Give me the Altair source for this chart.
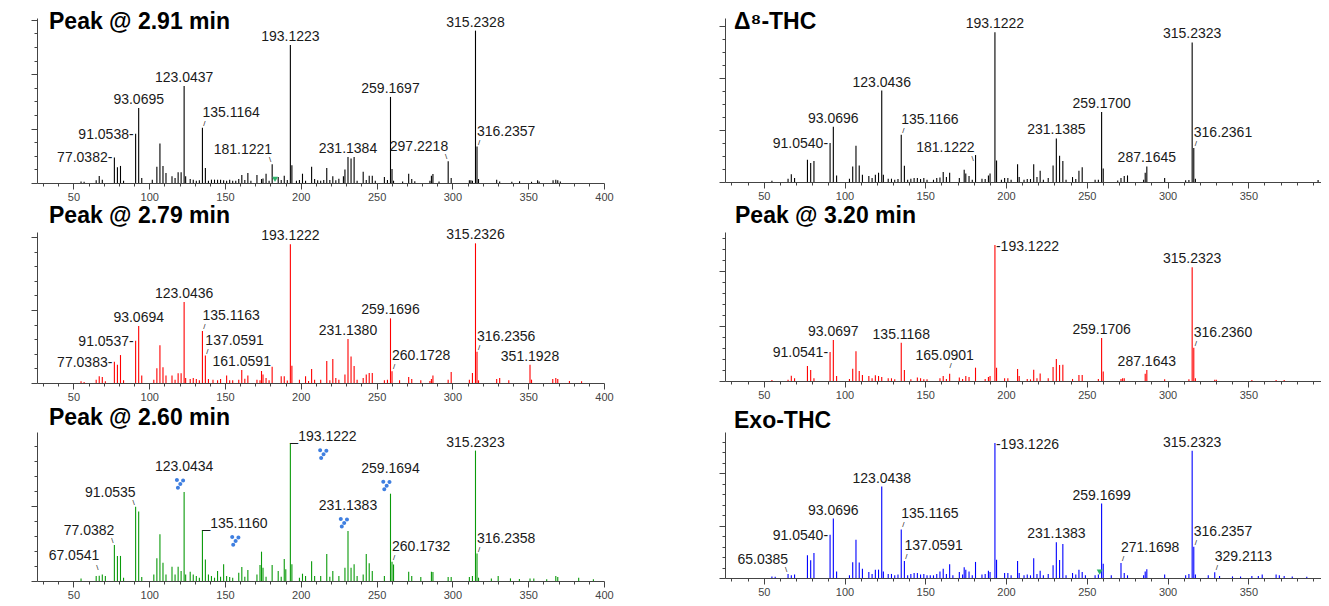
import altair as alt
import pandas as pd

X_MIN = 26

# ---------------- spectra: (m/z, relative intensity %) ----------------
peaks_291 = [
    (55.05, 1.0), (57.07, 0.8), (65.04, 1.8), (67.05, 4.6), (69.07, 2.2), (77.0382, 16.8), (79.05, 10.3),
    (81.07, 11.2), (83.09, 1.5), (91.0538, 32.4), (93.0695, 49.2), (95.09, 3.3), (102.05, 2.2), (105.07, 10.7),
    (107.09, 26.0), (109.10, 11.2), (111.08, 6.6), (115.05, 4.4), (117.07, 3.3), (119.09, 7.0), (121.06, 7.0),
    (123.0437, 63.7), (124.05, 4.4), (127.05, 2.6), (129.07, 2.2), (131.09, 1.5), (133.10, 1.8), (135.1164, 36.3),
    (137.06, 9.8), (139.08, 1.5), (141.07, 2.2), (143.09, 2.2), (145.10, 2.2), (147.08, 2.2), (149.10, 1.8),
    (151.08, 1.5), (153.09, 2.2), (155.08, 1.5), (157.10, 1.5), (159.08, 2.6), (161.10, 5.3), (163.08, 2.0),
    (165.09, 6.6), (167.09, 1.5), (171.08, 5.3), (174.09, 2.6), (175.08, 3.0), (177.09, 6.1), (179.09, 1.5),
    (181.1221, 12.3), (185.10, 3.9), (187.08, 2.0), (189.09, 4.8), (191.10, 2.0), (193.1223, 90.6), (194.13, 11.6),
    (197.13, 1.5), (199.11, 2.0), (201.12, 6.1), (203.14, 1.5), (207.14, 10.7), (209.12, 2.6), (211.13, 1.8),
    (213.13, 1.5), (215.14, 2.0), (217.13, 9.8), (219.15, 2.0), (221.12, 4.4), (223.11, 1.8), (225.12, 2.8),
    (228.11, 4.4), (229.12, 8.8), (231.1384, 17.1), (233.15, 16.0), (235.17, 17.1), (237.15, 1.5), (241.16, 7.4),
    (243.18, 2.0), (245.13, 4.8), (247.15, 4.8), (249.14, 1.5), (255.14, 3.9), (257.16, 2.0), (259.1697, 56.5),
    (260.17, 9.2), (261.18, 1.5), (267.17, 1.0), (271.17, 6.1), (273.18, 2.6), (275.20, 1.2), (285.18, 1.5),
    (286.16, 4.8), (287.16, 5.9), (291.17, 1.0), (297.2218, 14.2), (299.20, 3.3), (311.20, 1.8), (312.21, 1.8),
    (313.22, 1.5), (315.2328, 100.0), (316.2357, 23.9), (317.24, 2.6), (329.21, 2.2), (331.19, 1.0), (339.20, 0.8),
    (344.30, 1.1), (352.20, 0.8), (356.20, 1.8), (357.21, 1.0), (366.40, 1.8), (368.20, 2.2), (369.50, 1.8),
    (371.20, 1.0),
]
labels_291 = [77.0382, 91.0538, 93.0695, 123.0437, 135.1164, 181.1221, 193.1223, 231.1384, 259.1697, 297.2218,
              315.2328, 316.2357]
place_291 = ["left", "left", "top", "top", "upr", "upl", "top", "top", "top", "upl", "top", "upr"]
marker_291 = [(183.0, 2.4)]

peaks_279 = [
    (55.05, 1.2), (57.07, 0.7), (65.04, 2.4), (67.05, 4.8), (69.07, 4.3), (71.09, 1.2), (77.0383, 15.3),
    (79.05, 13.1), (81.07, 20.0), (83.09, 1.9), (91.0537, 30.3), (93.0694, 40.8), (95.09, 5.3), (103.05, 2.4),
    (105.07, 10.5), (107.09, 27.0), (109.10, 11.2), (111.08, 5.3), (115.05, 5.3), (117.07, 2.4), (119.09, 6.9),
    (121.06, 6.9), (123.0436, 58.0), (124.05, 3.6), (127.05, 2.9), (129.07, 3.6), (131.09, 2.9), (133.10, 2.0),
    (135.1163, 37.2), (137.0591, 19.6), (139.08, 2.9), (142.08, 2.4), (145.10, 2.0), (147.08, 2.9), (151.08, 5.3),
    (153.09, 2.0), (155.08, 2.0), (159.08, 2.4), (161.0591, 9.3), (163.08, 3.0), (165.09, 5.3), (171.08, 2.4),
    (173.10, 2.0), (174.09, 8.6), (175.08, 6.0), (177.09, 3.6), (179.09, 2.0), (181.10, 11.7), (187.08, 4.8),
    (189.09, 4.8), (191.10, 1.8), (193.1222, 99.3), (194.13, 12.4), (199.11, 2.4), (203.14, 4.8), (205.12, 1.5),
    (207.14, 10.0), (209.12, 2.4), (213.13, 2.4), (217.13, 15.8), (219.15, 2.0), (221.12, 17.2), (223.11, 3.6),
    (225.12, 2.4), (229.12, 6.0), (231.1380, 31.5), (233.15, 18.9), (235.17, 12.2), (237.15, 2.4), (241.16, 3.6),
    (243.18, 6.0), (245.13, 7.2), (247.15, 7.2), (255.14, 1.9), (257.16, 2.4), (259.1696, 46.3), (260.1728, 8.4),
    (265.15, 1.9), (271.17, 4.3), (273.18, 2.9), (279.16, 1.9), (285.18, 1.5), (286.16, 2.9), (287.16, 5.3),
    (297.20, 2.4), (299.20, 7.9), (311.20, 2.4), (313.22, 7.2), (315.2326, 100.0), (316.2356, 22.4), (317.24, 1.9),
    (329.21, 2.9), (331.19, 3.6), (337.20, 1.9), (351.1928, 13.1), (352.20, 2.4), (366.20, 2.9), (368.20, 3.6),
    (369.50, 2.9), (377.20, 1.4), (385.20, 1.2),
]
labels_279 = [77.0383, 91.0537, 93.0694, 123.0436, 135.1163, 137.0591, 161.0591, 193.1222, 231.1380, 259.1696,
              260.1728, 315.2326, 316.2356, 351.1928]
place_279 = ["left", "left", "top", "top", "upr", "upr", "top", "top", "top", "top", "upr", "top", "upr", "top"]

peaks_260 = [
    (55.05, 1.9), (65.04, 3.6), (67.0541, 3.9), (69.07, 4.8), (71.09, 3.6), (77.0382, 26.2), (79.05, 18.2),
    (81.07, 18.2), (83.09, 2.4), (91.0535, 54.0), (93.07, 50.4), (95.09, 2.9), (103.05, 4.8), (105.07, 16.5),
    (107.09, 33.9), (109.10, 13.3), (111.08, 4.8), (115.05, 10.4), (117.07, 4.8), (119.09, 10.4), (121.06, 7.3),
    (123.0434, 64.6), (124.05, 4.8), (127.05, 6.8), (129.07, 4.8), (131.09, 3.6), (133.10, 2.4), (135.1160, 37.0),
    (137.06, 15.7), (139.08, 4.8), (141.07, 3.6), (143.09, 2.4), (145.10, 7.3), (147.08, 3.0), (149.10, 12.1),
    (151.08, 3.6), (153.09, 2.9), (155.08, 2.4), (159.08, 6.0), (161.10, 10.2), (163.08, 3.0), (165.09, 8.0),
    (171.08, 4.8), (173.10, 11.6), (174.09, 21.3), (175.08, 9.7), (177.09, 3.0), (181.10, 11.6), (185.10, 7.3),
    (187.08, 3.0), (189.09, 16.0), (190.10, 8.5), (193.1222, 100.0), (194.13, 12.1), (199.11, 2.4), (201.12, 5.3),
    (203.14, 3.6), (207.14, 14.3), (209.12, 3.6), (213.13, 3.6), (217.13, 19.6), (219.15, 3.0), (221.12, 7.3),
    (225.12, 3.6), (229.12, 9.7), (231.1383, 36.3), (233.15, 9.7), (235.17, 12.1), (237.15, 3.6), (241.16, 4.8),
    (243.18, 19.6), (245.13, 12.8), (247.15, 7.3), (255.14, 3.6), (259.1694, 63.4), (260.1732, 14.0),
    (261.18, 12.0), (271.17, 6.8), (273.18, 3.6), (279.16, 2.9), (286.16, 6.8), (287.16, 6.5), (297.20, 2.9),
    (299.20, 2.9), (311.20, 2.9), (313.22, 3.6), (315.2323, 94.7), (316.2358, 19.9), (317.24, 2.4), (325.70, 1.9),
    (330.20, 3.6), (338.30, 1.9), (344.20, 1.5), (351.20, 1.9), (353.70, 1.9), (362.20, 1.2), (368.20, 3.6),
    (369.50, 2.9), (383.30, 2.4), (393.00, 1.2),
]
labels_260 = [67.0541, 77.0382, 91.0535, 123.0434, 135.1160, 193.1222, 231.1383, 259.1694, 260.1732, 315.2323,
              316.2358]
place_260 = ["upl16", "upl", "upl", "topicon", "rbot", "rbot", "topicon", "topicon", "upr", "top", "upr"]
icon_260 = [123.0434, 135.1160, 193.1222, 231.1383, 259.1694]
icon_place_260 = ["above", "right", "right", "above", "above"]

peaks_d8 = [
    (55.05, 0.9), (65.04, 2.2), (67.05, 5.1), (69.07, 2.7), (77.04, 14.9), (79.05, 12.7), (81.07, 14.0),
    (91.0540, 26.0), (93.0696, 36.9), (95.09, 4.4), (103.05, 2.2), (105.07, 10.4), (107.09, 24.2), (109.10, 11.1),
    (111.08, 4.9), (115.05, 4.0), (117.07, 2.7), (119.09, 4.9), (121.06, 6.2), (123.0436, 61.1), (124.05, 4.9),
    (127.05, 2.2), (129.07, 2.2), (131.09, 1.5), (133.10, 2.0), (135.1166, 31.6), (137.06, 10.9), (139.08, 1.5),
    (141.07, 2.2), (143.09, 2.7), (145.10, 2.7), (147.08, 2.0), (149.10, 2.7), (151.08, 1.5), (155.08, 1.5),
    (157.10, 2.7), (159.08, 3.0), (161.10, 6.7), (163.08, 3.3), (165.09, 6.2), (171.08, 2.7), (174.09, 8.2),
    (175.08, 5.6), (177.09, 4.0), (179.09, 1.5), (181.1222, 18.0), (185.10, 2.2), (187.08, 2.0), (189.09, 4.4),
    (190.10, 5.6), (193.1222, 100.0), (194.13, 14.4), (197.13, 1.5), (199.11, 2.7), (201.12, 2.7), (203.14, 1.5),
    (207.14, 11.8), (208.14, 3.3), (211.13, 1.5), (213.13, 2.0), (215.14, 2.0), (217.13, 11.8), (219.15, 3.3),
    (221.12, 7.6), (223.11, 1.5), (226.12, 2.7), (229.12, 11.1), (231.1385, 29.1), (233.15, 17.6), (235.17, 14.0),
    (237.15, 1.5), (241.16, 3.3), (243.18, 2.0), (245.13, 7.6), (247.15, 9.8), (255.14, 1.5), (257.16, 1.5),
    (259.1700, 46.7), (260.17, 9.1), (269.15, 1.0), (271.17, 2.7), (273.18, 4.0), (275.20, 4.4), (285.18, 1.5),
    (286.16, 6.2), (287.1645, 10.4), (298.20, 2.7), (311.20, 1.1), (313.22, 1.3), (315.2323, 93.3),
    (316.2361, 22.7), (317.24, 2.2), (393.20, 1.3),
]
labels_d8 = [91.0540, 93.0696, 123.0436, 135.1166, 181.1222, 193.1222, 231.1385, 259.1700, 287.1645, 315.2323,
             316.2361]
place_d8 = ["left", "top", "top", "upr", "upl3", "top", "top", "top", "top", "top", "upr"]

peaks_320 = [
    (55.05, 0.7), (65.04, 1.0), (67.05, 3.9), (69.07, 2.0), (77.04, 11.0), (79.05, 8.1), (81.07, 2.0),
    (91.0541, 21.3), (93.0697, 30.1), (95.09, 3.7), (103.05, 1.5), (105.07, 9.1), (107.09, 21.8), (109.10, 7.4),
    (111.08, 4.4), (115.05, 3.7), (117.07, 2.0), (119.09, 4.2), (121.06, 3.7), (123.04, 2.9), (127.05, 2.0),
    (129.07, 2.0), (131.09, 1.2), (135.1168, 28.2), (137.06, 8.1), (141.07, 1.2), (145.10, 2.5), (147.08, 2.0),
    (149.10, 1.2), (151.08, 1.2), (159.08, 2.0), (161.10, 3.7), (163.08, 1.5), (165.0901, 5.4), (171.08, 2.5),
    (173.10, 1.5), (175.08, 3.7), (177.09, 2.9), (181.10, 9.8), (187.08, 1.5), (189.09, 2.9), (190.10, 3.7),
    (193.1222, 100.0), (194.13, 9.8), (199.11, 2.0), (201.12, 2.0), (207.14, 8.8), (208.14, 3.7), (213.13, 1.5),
    (215.14, 1.2), (217.13, 8.3), (219.15, 2.0), (221.12, 5.6), (226.12, 2.0), (229.12, 10.3), (231.14, 16.2),
    (233.15, 11.8), (235.17, 12.0), (241.16, 1.5), (245.13, 4.4), (247.15, 4.4), (257.16, 1.5), (259.1706, 31.6),
    (260.17, 6.9), (271.17, 1.5), (272.18, 2.0), (273.18, 2.0), (286.16, 5.4), (287.1643, 8.1), (298.20, 1.2),
    (313.22, 1.2), (315.2323, 83.6), (316.2360, 24.5), (317.24, 2.0), (329.21, 1.0), (330.20, 1.0), (352.20, 0.7),
    (367.20, 0.7), (372.20, 0.7),
]
labels_320 = [91.0541, 93.0697, 135.1168, 165.0901, 193.1222, 259.1706, 287.1643, 315.2323, 316.2360]
place_320 = ["left", "top", "top", "upc", "rmid", "top", "top", "top", "upr"]

peaks_exo = [
    (55.05, 1.2), (57.07, 1.0), (65.0385, 3.0), (67.05, 2.0), (69.07, 2.5), (77.04, 16.8), (79.05, 13.1),
    (81.07, 18.5), (91.0540, 32.1), (93.0696, 44.0), (95.09, 4.9), (103.05, 2.0), (105.07, 11.6), (107.09, 28.4),
    (109.10, 11.4), (111.08, 6.9), (115.05, 4.4), (117.07, 3.0), (119.09, 6.2), (121.06, 6.2), (123.0438, 67.7),
    (124.05, 4.9), (127.05, 3.0), (129.07, 3.0), (131.09, 2.0), (133.10, 2.5), (135.1165, 36.0), (137.0591, 12.6),
    (139.08, 2.0), (141.07, 3.0), (143.09, 3.7), (145.10, 3.7), (147.08, 2.5), (149.10, 3.0), (151.08, 2.0),
    (153.09, 2.0), (155.08, 2.0), (157.10, 3.0), (159.08, 4.9), (161.10, 6.9), (163.08, 3.0), (165.09, 10.1),
    (167.09, 2.0), (171.08, 4.4), (173.10, 2.5), (174.09, 7.9), (175.08, 6.2), (177.09, 4.9), (179.09, 2.0),
    (181.10, 11.9), (185.10, 2.5), (187.08, 3.0), (189.09, 5.4), (190.10, 4.4), (193.1226, 100.0), (194.13, 13.6),
    (199.11, 3.7), (201.12, 3.7), (203.14, 2.0), (207.14, 12.6), (208.14, 3.7), (211.13, 2.0), (213.13, 2.5),
    (215.14, 2.0), (217.13, 14.6), (219.15, 3.0), (221.12, 5.4), (223.11, 2.0), (226.12, 3.0), (229.12, 9.4),
    (231.1383, 26.4), (233.15, 13.3), (235.17, 25.2), (237.15, 2.0), (241.16, 3.7), (243.18, 2.5), (245.13, 6.2),
    (247.15, 4.4), (249.14, 2.0), (255.14, 2.0), (257.16, 2.5), (259.1699, 55.1), (260.17, 10.6), (265.15, 2.0),
    (271.1698, 11.1), (273.18, 3.7), (275.20, 2.0), (285.18, 2.0), (286.16, 4.9), (287.16, 6.4), (298.20, 2.5),
    (311.20, 2.0), (313.22, 3.0), (315.2323, 94.3), (316.2357, 23.2), (317.24, 2.5), (325.20, 2.0),
    (329.2113, 4.2), (332.20, 1.5), (340.20, 1.2), (345.20, 1.2), (352.20, 1.5), (356.20, 1.5), (358.60, 2.5),
    (367.20, 2.5), (369.20, 2.0), (372.20, 1.5), (377.20, 1.2), (386.20, 1.0),
]
labels_exo = [65.0385, 91.0540, 93.0696, 123.0438, 135.1165, 137.0591, 193.1226, 231.1383, 259.1699, 271.1698,
              315.2323, 316.2357, 329.2113]
place_exo = ["upl", "left", "top", "top", "upr", "upr", "rmid", "top", "top", "upr", "top", "upr", "upr"]
marker_exo = [(258.0, 4.4)]

# ---------------- label placement styles ----------------
STYLES = {
    "top": dict(align="center", baseline="alphabetic", dx=0, dy=-4),
    "left": dict(align="right", baseline="middle", dx=-2, dy=1),
    "upr": dict(align="left", baseline="alphabetic", dx=0, dy=-11),
    "upl": dict(align="right", baseline="alphabetic", dx=0, dy=-10),
    "upl16": dict(align="right", baseline="alphabetic", dx=0, dy=-16),
    "upl3": dict(align="right", baseline="alphabetic", dx=-1, dy=-3),
    "upc": dict(align="center", baseline="alphabetic", dx=-5, dy=-14),
    "rmid": dict(align="left", baseline="middle", dx=1, dy=2),
    "rbot": dict(align="left", baseline="alphabetic", dx=0, dy=-2),
    "topicon": dict(align="center", baseline="alphabetic", dx=0, dy=-21),
}
PREFIX = {"rmid": "-", "rbot": "_"}
SUFFIX = {"left": "-"}
CONNECT = {"upr": ("/", 2, -4), "upl": ("\\", -2, -4), "upl16": ("\\", -2, -8),
           "upl3": ("\\", -3, 4), "upc": ("/", 1, -8)}


def dots_path(cx, cy, r=2.0):
    pts = [(-3.2, -3.0), (3.0, -2.6), (0.2, 1.0), (-2.2, 4.6)]
    out = []
    for px, py in pts:
        x0, y0 = cx + px, cy + py
        out.append(f"M{x0 - r:.2f},{y0:.2f}a{r},{r} 0 1,0 {2 * r},0a{r},{r} 0 1,0 {-2 * r},0Z")
    return "".join(out)


ICON_SHAPES = {"above": dots_path(-4, -9), "right": dots_path(33, 10)}

FONT = "Liberation Sans"


def panel(peaks, lab_mz, lab_place, color, w, h, xmax, ymax, ystep, ymajor, title, tx, ty,
          markers=None, icons=None, icon_place=None):
    look = dict(peaks)
    pk = pd.DataFrame(peaks, columns=["mz", "inten"])
    xvals = list(range(30, int(xmax) + 1, 10))
    x_axis = alt.Axis(values=xvals, labelExpr="datum.value % 50 === 0 ? datum.label : ''",
                      tickSize={"condition": {"test": "datum.value % 50 === 0", "value": 6}, "value": 3},
                      labelFontSize=11, labelColor="#444444", labelFont=FONT, domainColor="#444444",
                      tickColor="#444444", labelPadding=2, labelFlush=False, labelOverlap=False,
                      title=None, grid=False)
    n = int(ymax / ystep)
    yvals = [round(i * ystep, 4) for i in range(n + 1)]
    maj = ystep * ymajor
    y_axis = alt.Axis(values=yvals, labels=False, title=None, grid=False, domainColor="#444444",
                      tickColor="#444444",
                      tickSize={"condition": {"test": f"abs(datum.value/{maj} - round(datum.value/{maj})) < 0.01",
                                              "value": 6}, "value": 3})
    xe = alt.X("mz:Q", scale=alt.Scale(domain=[X_MIN, xmax], nice=False, zero=False), axis=x_axis)
    ye = alt.Y("inten:Q", scale=alt.Scale(domain=[0, ymax], nice=False, zero=True), axis=y_axis)

    layers = [alt.Chart(pk).mark_rule(color=color, strokeWidth=1.1).encode(x=xe, y=ye, y2=alt.datum(0))]

    lab = pd.DataFrame({
        "mz": lab_mz,
        "inten": [look[m] for m in lab_mz],
        "text": [PREFIX.get(p, "") + f"{m:.4f}" + SUFFIX.get(p, "") for m, p in zip(lab_mz, lab_place)],
        "place": lab_place,
    })
    for s in dict.fromkeys(lab_place):
        sub = lab[lab["place"] == s]
        layers.append(alt.Chart(sub).mark_text(font=FONT, fontSize=14, color="#1a1a1a", **STYLES[s])
                      .encode(x=xe, y=ye, text="text:N"))
        if s in CONNECT:
            ch, cdx, cdy = CONNECT[s]
            layers.append(alt.Chart(sub).mark_text(font=FONT, fontSize=8, color="#1a1a1a", text=ch,
                                                   align="center", baseline="middle", dx=cdx, dy=cdy)
                          .encode(x=xe, y=ye))
    if markers:
        mk = pd.DataFrame(markers, columns=["mz", "inten"])
        layers.append(alt.Chart(mk).mark_point(shape="triangle-down", filled=True, size=36, opacity=1,
                                               color="#2fb36b").encode(x=xe, y=ye))
    if icons:
        ic = pd.DataFrame({"mz": icons, "inten": [look[m] for m in icons], "place": icon_place})
        for s in dict.fromkeys(icon_place):
            layers.append(alt.Chart(ic[ic["place"] == s]).mark_point(shape=ICON_SHAPES[s], filled=True,
                                                                     size=4, opacity=1, color="#3f7fe0")
                          .encode(x=xe, y=ye))
    layers.append(alt.Chart(pd.DataFrame({"t": [title]})).mark_text(
        font=FONT, fontSize=23, fontWeight="bold", color="#000000", align="left", baseline="alphabetic")
        .encode(x=alt.value(tx), y=alt.value(ty), text="t:N"))
    return alt.layer(*layers).properties(width=w, height=h)


WL, WR = 567, 596
XL, XR = 400, 395
L1 = panel(peaks_291, labels_291, place_291, "#000000", WL, 165, XL, 108.3, 8.93, 4, "Peak @ 2.91 min", 12, 11,
           markers=marker_291)
R1 = panel(peaks_d8, labels_d8, place_d8, "#000000", WR, 164, XR, 109.6, 8.69, 4, "Δ⁸-THC", 9, 11)
L2 = panel(peaks_279, labels_279, place_279, "#ff0000", WL, 151, XL, 108.1, 10.45, 5, "Peak @ 2.79 min", 12, -8.7)
R2 = panel(peaks_320, labels_320, place_320, "#ff0000", WR, 149, XR, 109.6, 8.09, 5, "Peak @ 3.20 min", 10, -9.3)
L3 = panel(peaks_260, labels_260, place_260, "#0a9a0a", WL, 149, XL, 108.2, 10.9, 5, "Peak @ 2.60 min", 12, -7,
           icons=icon_260, icon_place=icon_place_260)
R3 = panel(peaks_exo, labels_exo, place_exo, "#0000ff", WR, 146, XR, 108.1, 7.77, 5, "Exo-THC", 9, -3.7,
           markers=marker_exo)

chart = alt.concat(L1, R1, L2, R2, L3, R3, columns=2, spacing={"row": 49, "column": 121},
                   bounds="flush").properties(
    padding={"left": 22, "top": 3, "right": 0, "bottom": 0},
    background="white",
).configure_view(stroke=None)

chart.save("out.html", embed_options={"renderer": "svg", "actions": False})
